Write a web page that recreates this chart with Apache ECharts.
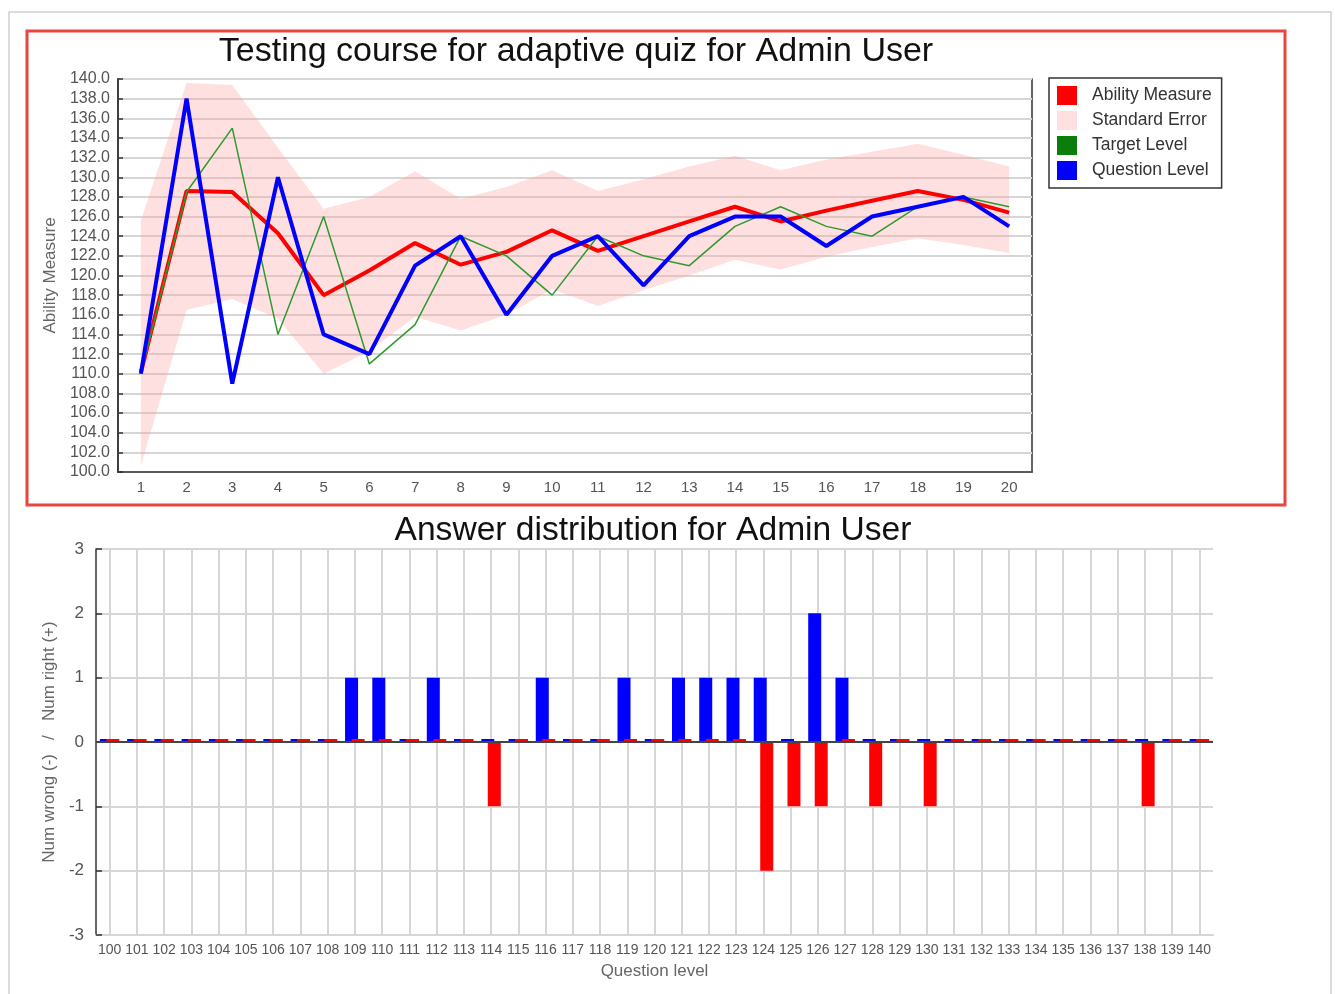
<!DOCTYPE html>
<html>
<head>
<meta charset="utf-8">
<title>Adaptive quiz - Admin User</title>
<script src="https://cdn.jsdelivr.net/npm/echarts@6/dist/echarts.min.js"></script>
<style>
	html, body { margin: 0; padding: 0; background: #fff; }
	#main { width: 1335px; height: 994px; }
</style>
</head>
<body>
<div id="main"></div>
<script>
// top chart: course of the adaptive quiz
var quizSteps = ['1', '2', '3', '4', '5', '6', '7', '8', '9', '10', '11', '12', '13', '14', '15', '16', '17', '18', '19', '20'];
var abilityMeasure = [110.1, 128.6, 128.5, 124.3, 118.0, 120.5, 123.3, 121.1, 122.4, 124.6, 122.5, 124.0, 125.5, 127.0, 125.5, 126.6, 127.6, 128.6, 127.7, 126.4];
var seUpper = [125.6, 139.6, 139.4, 133.0, 126.8, 128.0, 130.6, 127.8, 129.0, 130.7, 128.6, 129.8, 131.1, 132.2, 130.7, 131.8, 132.6, 133.4, 132.3, 131.1];
var seLower = [100.6, 116.5, 117.6, 115.6, 110.0, 112.3, 115.8, 114.4, 116.0, 118.6, 116.9, 118.5, 120.0, 121.6, 120.6, 121.9, 122.9, 123.8, 123.1, 122.3];
var targetLevel = [110, 128.5, 135, 114, 126, 111, 115, 124, 122, 118, 124, 122, 121, 125, 127, 125, 124, 127, 128, 127];
var questionLevel = [110, 138, 109, 130, 114, 112, 121, 124, 116, 122, 124, 119, 124, 126, 126, 123, 126, 127, 128, 125];

// bottom chart: answers per question level
var questionLevels = ['100', '101', '102', '103', '104', '105', '106', '107', '108', '109', '110',
	'111', '112', '113', '114', '115', '116', '117', '118', '119', '120',
	'121', '122', '123', '124', '125', '126', '127', '128', '129', '130',
	'131', '132', '133', '134', '135', '136', '137', '138', '139', '140'];
var numRight = [0, 0, 0, 0, 0, 0, 0, 0, 0, 1, 1,
	0, 1, 0, 0, 0, 1, 0, 0, 1, 0,
	1, 1, 1, 1, 0, 2, 1, 0, 0, 0,
	0, 0, 0, 0, 0, 0, 0, 0, 0, 0];
var numWrong = [0, 0, 0, 0, 0, 0, 0, 0, 0, 0, 0,
	0, 0, 0, -1, 0, 0, 0, 0, 0, 0,
	0, 0, 0, -2, -1, -1, 0, -1, 0, -1,
	0, 0, 0, 0, 0, 0, 0, -1, 0, 0];

var fontName = 'Liberation Sans, Arial, sans-serif';
var gridGray = '#d6d6d6';

// band height on top of the lower bound (stacked area)
var seBand = seUpper.map(function (v, i) {
	return +(v - seLower[i]).toFixed(2);
});

var myChart = echarts.init(document.getElementById('main'));
var option = {
	animation: false,
	backgroundColor: '#fff',
	textStyle: { fontFamily: fontName },
	title: [{
		text: 'Testing course for adaptive quiz for Admin User',
		left: 576,
		top: 35,
		textAlign: 'center',
		padding: 0,
		textStyle: { fontSize: 34, fontWeight: 'normal', color: '#111', fontFamily: fontName }
	}, {
		text: 'Answer distribution for Admin User',
		left: 653,
		top: 514,
		textAlign: 'center',
		padding: 0,
		textStyle: { fontSize: 33.6, fontWeight: 'normal', color: '#111', fontFamily: fontName }
	}],
	legend: {
		orient: 'vertical',
		left: 1049,
		top: 78,
		padding: [8, 10, 8, 8],
		borderColor: '#333',
		borderWidth: 1.5,
		backgroundColor: '#fff',
		icon: 'rect',
		itemWidth: 20,
		itemHeight: 19,
		itemGap: 6,
		selectedMode: false,
		textStyle: { fontSize: 17.5, color: '#333', padding: [0, 0, 0, 10] },
		data: [
			{ name: 'Ability Measure', itemStyle: { color: '#ff0000', borderWidth: 0 } },
			{ name: 'Standard Error', itemStyle: { color: '#ffdfdf', borderWidth: 0 } },
			{ name: 'Target Level', itemStyle: { color: '#0a7d0a', borderWidth: 0 } },
			{ name: 'Question Level', itemStyle: { color: '#0000ff', borderWidth: 0 } }
		]
	},
	graphic: [{
		type: 'rect',
		silent: true,
		shape: { x: 9, y: 12, width: 1322, height: 1000 },
		style: { fill: 'none', stroke: '#cfcfcf', lineWidth: 1.5 }
	}, {
		type: 'rect',
		silent: true,
		shape: { x: 27, y: 31, width: 1258, height: 474 },
		style: { fill: 'none', stroke: '#e8453f', lineWidth: 3 }
	}],
	grid: [
		{ left: 118, right: 303, top: 79, height: 393, show: true, borderColor: '#333', borderWidth: 1.5 },
		{ left: 96, right: 122, top: 549, height: 386 }
	],
	xAxis: [{
		gridIndex: 0,
		type: 'category',
		data: quizSteps,
		boundaryGap: true,
		axisLine: { lineStyle: { color: '#333', width: 1.5 } },
		axisTick: { alignWithLabel: true, inside: true, length: 6, lineStyle: { color: '#333', width: 1.5 } },
		axisLabel: { fontSize: 15, color: '#555', margin: 8 },
		splitLine: { show: false }
	}, {
		gridIndex: 1,
		type: 'category',
		data: questionLevels,
		boundaryGap: true,
		name: 'Question level',
		nameLocation: 'middle',
		nameGap: 28,
		nameTextStyle: { fontSize: 17, color: '#666' },
		axisLine: { onZero: false, lineStyle: { color: gridGray, width: 2 } },
		axisTick: { interval: 0, alignWithLabel: true, inside: true, length: 6, lineStyle: { color: '#333', width: 1.5 } },
		axisLabel: { interval: 0, fontSize: 14, color: '#555', margin: 8 },
		splitLine: { show: true, interval: 0, alignWithLabel: true, lineStyle: { color: gridGray, width: 2 } }
	}],
	yAxis: [{
		gridIndex: 0,
		type: 'value',
		min: 100,
		max: 140,
		interval: 2,
		name: 'Ability Measure',
		nameLocation: 'middle',
		nameGap: 58,
		nameTextStyle: { fontSize: 17, color: '#666' },
		axisLine: { show: true, lineStyle: { color: '#333', width: 1.5 } },
		axisTick: { show: true, inside: true, length: 5, lineStyle: { color: '#333', width: 1.5 } },
		axisLabel: {
			fontSize: 16, color: '#555', margin: 8,
			formatter: function (v) { return v.toFixed(1); }
		},
		splitLine: { lineStyle: { color: gridGray, width: 2 } }
	}, {
		gridIndex: 1,
		type: 'value',
		min: -3,
		max: 3,
		interval: 1,
		name: 'Num wrong (-)   /   Num right (+)',
		nameLocation: 'middle',
		nameGap: 34,
		nameTextStyle: { fontSize: 17, color: '#666' },
		axisLine: { show: true, onZero: false, lineStyle: { color: '#333', width: 1.5 } },
		axisTick: { show: true, inside: true, length: 6, lineStyle: { color: '#333', width: 1.5 } },
		axisLabel: { fontSize: 17, color: '#555', margin: 12 },
		splitLine: { lineStyle: { color: gridGray, width: 2 } }
	}],
	series: [{
		name: 'seLower',
		type: 'line',
		xAxisIndex: 0,
		yAxisIndex: 0,
		data: seLower,
		stack: 'se',
		symbol: 'none',
		silent: true,
		lineStyle: { opacity: 0 },
		z: 1
	}, {
		name: 'Standard Error',
		type: 'line',
		xAxisIndex: 0,
		yAxisIndex: 0,
		data: seBand,
		stack: 'se',
		symbol: 'none',
		silent: true,
		itemStyle: { color: '#ffdfdf' },
		lineStyle: { opacity: 0 },
		areaStyle: { color: 'rgba(255,160,160,0.33)', opacity: 1 },
		z: 1
	}, {
		name: 'Ability Measure',
		type: 'line',
		xAxisIndex: 0,
		yAxisIndex: 0,
		data: abilityMeasure,
		symbol: 'none',
		itemStyle: { color: '#ff0000' },
		lineStyle: { color: '#ff0000', width: 4 },
		z: 3
	}, {
		name: 'Target Level',
		type: 'line',
		xAxisIndex: 0,
		yAxisIndex: 0,
		data: targetLevel,
		symbol: 'none',
		itemStyle: { color: '#2e9a2e' },
		lineStyle: { color: '#2e9a2e', width: 1.5 },
		z: 3
	}, {
		name: 'Question Level',
		type: 'line',
		xAxisIndex: 0,
		yAxisIndex: 0,
		data: questionLevel,
		symbol: 'none',
		itemStyle: { color: '#0000ff' },
		lineStyle: { color: '#0000ff', width: 4 },
		z: 3
	}, {
		name: 'Num right',
		type: 'bar',
		xAxisIndex: 1,
		yAxisIndex: 1,
		data: numRight,
		barWidth: 13,
		barGap: '-50%',
		barMinHeight: 3,
		itemStyle: { color: '#0000ff' },
		markLine: {
			silent: true,
			symbol: 'none',
			label: { show: false },
			lineStyle: { color: '#444', width: 2, type: 'solid' },
			data: [{ yAxis: 0 }]
		}
	}, {
		name: 'Num wrong',
		type: 'bar',
		xAxisIndex: 1,
		yAxisIndex: 1,
		data: numWrong,
		barWidth: 13,
		barMinHeight: 3,
		itemStyle: { color: '#ff0000' }
	}]
};
myChart.setOption(option);
</script>
</body>
</html>
